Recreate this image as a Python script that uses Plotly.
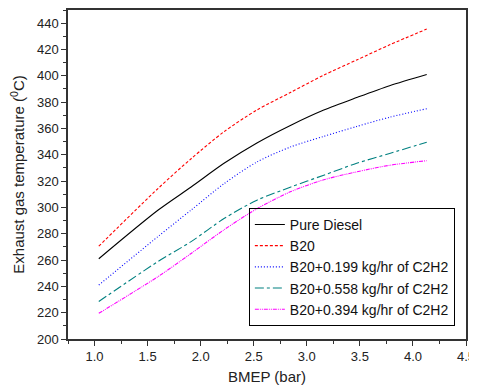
import plotly.graph_objects as go

bmep = [1.04, 1.6, 1.91, 2.22, 2.53, 2.85, 3.16, 3.47, 3.78, 4.13]
pure_diesel = [261, 298, 315.5, 333.5, 349, 362.5, 374, 383.5, 392.5, 401]
b20 = [270.5, 314.5, 337, 357.5, 374, 387.5, 400.5, 412, 423.5, 435.5]
b20_0199 = [241, 278, 298, 318, 334.5, 346, 354, 361.5, 368.5, 375]
b20_0558 = [228.5, 259, 274, 291.5, 305.5, 315.5, 324.5, 333.5, 341, 349.5]
b20_0394 = [219.5, 247.5, 265, 283, 299, 312, 321, 327, 332, 335.5]

series = [
    ("Pure Diesel", pure_diesel, "#000000", "solid"),
    ("B20", b20, "#FF0000", "3px,2px"),
    ("B20+0.199 kg/hr of C2H2", b20_0199, "#0000FF", "1px,2px"),
    ("B20+0.558 kg/hr of C2H2", b20_0558, "#008080", "dashdot"),
    ("B20+0.394 kg/hr of C2H2", b20_0394, "#FF00FF", "4px,1px,1px,1px,1px,1px"),
]

FONT = "Liberation Sans, Arial"

fig = go.Figure()
for name, ys, color, dash in series:
    fig.add_trace(go.Scatter(
        x=bmep, y=ys, name=name, mode="lines",
        line=dict(color=color, width=1.1, dash=dash, shape="spline", smoothing=0.8),
    ))

axis_common = dict(
    showgrid=False, zeroline=False, showline=True, linecolor="#333333",
    linewidth=1.5, mirror=True, ticks="outside", ticklen=5, tickwidth=1,
    tickcolor="#333333", automargin=False,
    tickfont=dict(family=FONT, size=13, color="#222222"),
    title_font=dict(family=FONT, size=15, color="#222222"),
)

fig.update_xaxes(
    range=[0.75, 4.5], dtick=0.5, tick0=0, tickformat=".1f",
    minor=dict(dtick=0.25, ticks="outside", ticklen=3, tickcolor="#333333"),
    title_text="BMEP (bar)", title_standoff=8, **axis_common,
)
fig.update_yaxes(
    range=[200, 450], dtick=20, tick0=0,
    minor=dict(dtick=10, ticks="outside", ticklen=3, tickcolor="#333333"),
    title_text="Exhaust gas temperature (<sup>0</sup>C)", title_standoff=9, **axis_common,
)

# page body has an 8px margin, so the figure is sized to fit inside the window
fig.update_layout(
    width=469, height=377,
    margin=dict(l=60, r=11, t=2, b=46),
    plot_bgcolor="white", paper_bgcolor="white",
    font=dict(family=FONT, size=13, color="#111111"),
    legend=dict(
        x=0.972, y=0.04, xanchor="right", yanchor="bottom",
        bordercolor="#000000", borderwidth=1, bgcolor="rgba(255,255,255,0)",
        font=dict(family=FONT, size=14, color="#111111"),
        tracegroupgap=0, itemwidth=30,
    ),
)

fig.write_html("out.html")
